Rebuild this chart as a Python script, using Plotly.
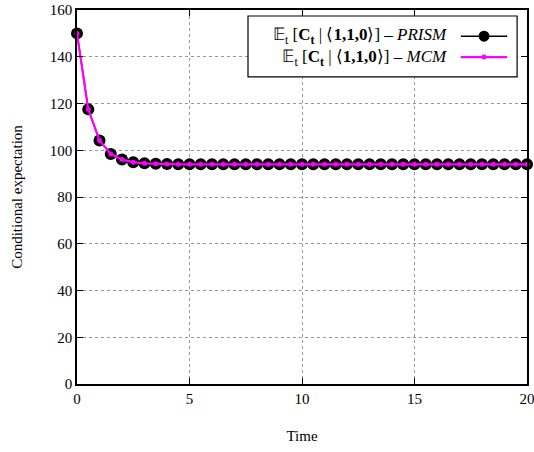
import plotly.graph_objects as go

time = [0, 0.5, 1, 1.5, 2, 2.5, 3, 3.5, 4, 4.5, 5, 5.5, 6, 6.5, 7, 7.5, 8, 8.5, 9, 9.5,
        10, 10.5, 11, 11.5, 12, 12.5, 13, 13.5, 14, 14.5, 15, 15.5, 16, 16.5, 17, 17.5,
        18, 18.5, 19, 19.5, 20]
prism = [150.0, 117.5, 104.2, 98.4, 96.0, 94.9, 94.4, 94.2, 94.1, 94.0, 94.0, 94.0, 94.0,
         94.0, 94.0, 94.0, 94.0, 94.0, 94.0, 94.0, 94.0, 94.0, 94.0, 94.0, 94.0, 94.0,
         94.0, 94.0, 94.0, 94.0, 94.0, 94.0, 94.0, 94.0, 94.0, 94.0, 94.0, 94.0, 94.0,
         94.0, 94.0]
mcm = [150.0, 117.5, 104.2, 98.4, 96.0, 94.9, 94.4, 94.2, 94.1, 94.0, 94.0, 94.0, 94.0,
       94.0, 94.0, 94.0, 94.0, 94.0, 94.0, 94.0, 94.0, 94.0, 94.0, 94.0, 94.0, 94.0,
       94.0, 94.0, 94.0, 94.0, 94.0, 94.0, 94.0, 94.0, 94.0, 94.0, 94.0, 94.0, 94.0,
       94.0, 94.0]
x_ticks = [0, 5, 10, 15, 20]
y_ticks = [0, 20, 40, 60, 80, 100, 120, 140, 160]
label_prism = "𝔼<sub>t</sub> [<b>C</b><sub><b>t</b></sub> | ⟨<b>1,1,0</b>⟩] – <i>PRISM</i>"
label_mcm = "𝔼<sub>t</sub> [<b>C</b><sub><b>t</b></sub> | ⟨<b>1,1,0</b>⟩] – <i>MCM</i>"

FONT = "Liberation Serif"

fig = go.Figure()
fig.add_trace(go.Scatter(x=time, y=prism, mode="lines+markers", name=label_prism,
                         line=dict(color="black", width=1.5),
                         marker=dict(color="black", size=12, symbol="circle"),
                         cliponaxis=False, showlegend=False))
fig.add_trace(go.Scatter(x=time, y=mcm, mode="lines+markers", name=label_mcm,
                         line=dict(color="#ff00ff", width=2.2),
                         marker=dict(color="#ff00ff", size=5, symbol="circle"),
                         cliponaxis=False, showlegend=False))

axis_common = dict(showline=True, linecolor="black", linewidth=1.5, mirror="ticks",
                   ticks="inside", ticklen=6, tickcolor="black", tickwidth=1,
                   showgrid=True, gridcolor="#999999", griddash="dot", gridwidth=1,
                   zeroline=False, automargin=False, ticklabeloverflow="allow",
                   tickfont=dict(family=FONT, size=15, color="black"))

fig.update_xaxes(range=[0, 20], tickvals=x_ticks, ticktext=[str(v) for v in x_ticks],
                 title=dict(text="Time", font=dict(family=FONT, size=15, color="black"),
                            standoff=25), **axis_common)
fig.update_yaxes(range=[0, 160], tickvals=y_ticks, ticktext=[str(v) for v in y_ticks],
                 title=dict(text="Conditional expectation",
                            font=dict(family=FONT, size=15, color="black"), standoff=24),
                 **axis_common)

# manual legend (text right-aligned, key on the right)
fig.add_shape(type="rect", xref="paper", yref="paper", x0=0.38, x1=0.978, y0=0.821, y1=0.984,
              line=dict(color="black", width=1.2), fillcolor="white", layer="above")
fig.add_annotation(xref="paper", yref="paper", x=0.827, y=0.902,
                   text=label_prism + "<br>" + label_mcm, showarrow=False,
                   xanchor="right", yanchor="middle", align="right",
                   font=dict(family=FONT, size=17, color="black"))
rows = [(0.930, "black", 1.5, 5.5), (0.874, "#ff00ff", 2.2, 2.5)]
for yy, col, lw, r in rows:
    fig.add_shape(type="line", xref="paper", yref="paper", x0=0.853, x1=0.956, y0=yy, y1=yy,
                  line=dict(color=col, width=lw), layer="above")
    fig.add_shape(type="circle", xref="paper", yref="paper",
                  x0=0.9045 - r / 450, x1=0.9045 + r / 450,
                  y0=yy - r / 374, y1=yy + r / 374,
                  line=dict(color=col, width=0), fillcolor=col, layer="above")

fig.update_layout(width=534, height=452, margin=dict(l=77, r=7, t=10, b=68),
                  plot_bgcolor="white", paper_bgcolor="white",
                  font=dict(family=FONT, color="black"))
fig.write_html("out.html")
